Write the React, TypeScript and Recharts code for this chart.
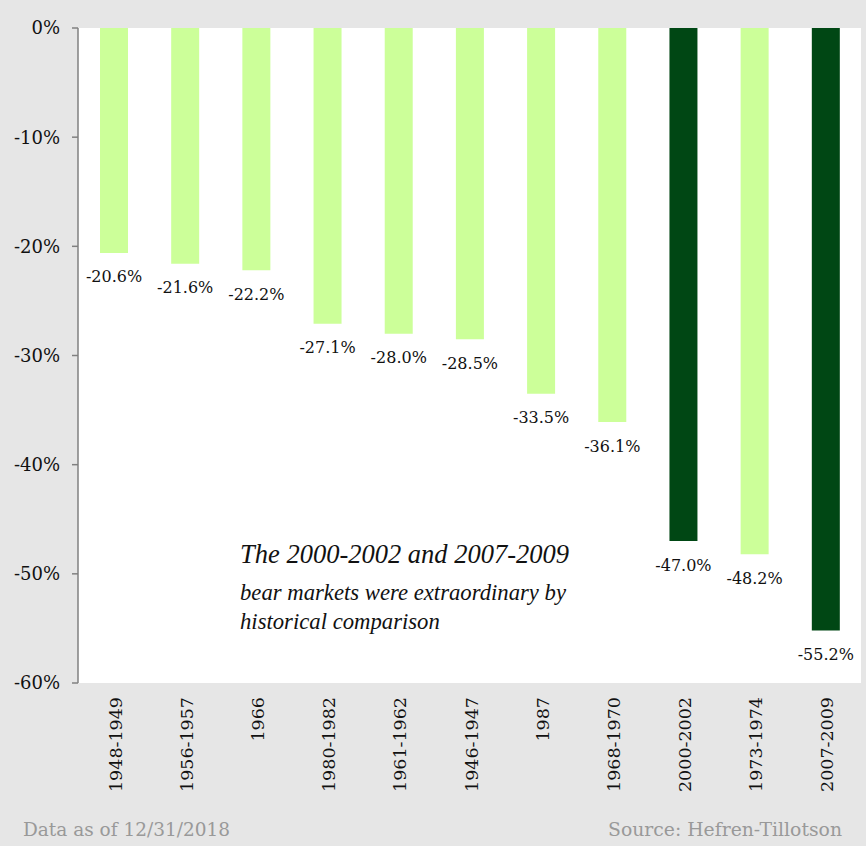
import React from 'react';
import { BarChart, Bar, XAxis, YAxis, CartesianGrid, Cell, LabelList } from 'recharts';

const categories = ['1948-1949', '1956-1957', '1966', '1980-1982', '1961-1962', '1946-1947', '1987', '1968-1970', '2000-2002', '1973-1974', '2007-2009'];
const declines = [-20.6, -21.6, -22.2, -27.1, -28.0, -28.5, -33.5, -36.1, -47.0, -48.2, -55.2];
const highlighted = ['2000-2002', '2007-2009'];
const yTicks = [0, -10, -20, -30, -40, -50, -60];
const dividerTicks = [1, 2, 3, 4, 5, 6, 7, 8, 9, 10];
const noteLines = ['The 2000-2002 and 2007-2009', 'bear markets were extraordinary by', 'historical comparison'];

const data = categories.map((c, i) => ({ period: c, value: declines[i] }));

const LIGHT = '#ccff99';
const DARK = '#004714';
const BG = '#e6e6e6';
const AXIS = '#808080';
const SERIF = '"DejaVu Serif", serif';

const XTick = (props: any) => {
  const { x, y, payload } = props;
  return (
    <text
      x={x + 2}
      y={y}
      transform={`rotate(-90 ${x + 2} ${y})`}
      textAnchor="end"
      dominantBaseline="central"
      fontFamily={SERIF}
      fontSize={17.5}
      fill="#111"
    >
      {payload.value}
    </text>
  );
};

const ValueLabel = (props: any) => {
  const { x, y, width, height, value } = props;
  const bottom = Math.max(y, y + height);
  return (
    <text
      x={x + width / 2}
      y={bottom + 24}
      textAnchor="middle"
      dominantBaseline="central"
      fontFamily={SERIF}
      fontSize={16}
      fill="#111"
    >
      {`${Number(value).toFixed(1)}%`}
    </text>
  );
};

export default function App() {
  return (
    <div style={{ position: 'absolute', left: 0, top: 0, width: 866, height: 846, background: BG, overflow: 'hidden' }}>
      <BarChart
        width={866}
        height={846}
        data={data}
        margin={{ top: 28, right: 5, bottom: 0, left: 0 }}
        barCategoryGap={0}
      >
        <CartesianGrid fill="#ffffff" horizontal={false} vertical={false} stroke="none" />
        <XAxis
          dataKey="period"
          orientation="bottom"
          height={163}
          axisLine={false}
          tickLine={false}
          tickSize={0}
          tickMargin={14}
          interval={0}
          tick={<XTick />}
        />
        <XAxis
          xAxisId="top"
          type="number"
          orientation="top"
          domain={[0, 11]}
          ticks={dividerTicks}
          allowDataOverflow
          height={0}
          mirror
          tick={false}
          tickSize={6}
          axisLine={{ stroke: AXIS, strokeWidth: 1.5 }}
          tickLine={{ stroke: AXIS, strokeWidth: 1.5 }}
        />
        <YAxis
          type="number"
          domain={[-60, 0]}
          ticks={yTicks}
          width={78}
          interval={0}
          tickSize={6}
          tickMargin={12}
          axisLine={{ stroke: AXIS, strokeWidth: 1.5 }}
          tickLine={{ stroke: AXIS, strokeWidth: 1.5 }}
          tickFormatter={(v: number) => `${v}%`}
          tick={{ fontFamily: SERIF, fontSize: 18, fill: '#111' }}
        />
        <Bar dataKey="value" barSize={28} isAnimationActive={false}>
          {data.map((d) => (
            <Cell key={d.period} fill={highlighted.includes(d.period) ? DARK : LIGHT} />
          ))}
          <LabelList dataKey="value" content={<ValueLabel />} />
        </Bar>
      </BarChart>
      {noteLines.map((line, i) => (
        <div
          key={i}
          style={{
            position: 'absolute',
            left: 240,
            top: [540, 579, 608][i],
            fontFamily: '"Liberation Serif", serif',
            fontStyle: 'italic',
            fontSize: i === 0 ? 26.5 : 22.7,
            lineHeight: '28px',
            color: '#111',
            whiteSpace: 'nowrap',
          }}
        >
          {line}
        </div>
      ))}
      <div style={{ position: 'absolute', left: 23, top: 817, fontFamily: SERIF, fontSize: 18.5, color: '#999', whiteSpace: 'nowrap', lineHeight: '26px' }}>
        Data as of 12/31/2018
      </div>
      <div style={{ position: 'absolute', right: 24, top: 817, fontFamily: SERIF, fontSize: 18.8, color: '#999', whiteSpace: 'nowrap', lineHeight: '26px' }}>
        Source: Hefren-Tillotson
      </div>
    </div>
  );
}
